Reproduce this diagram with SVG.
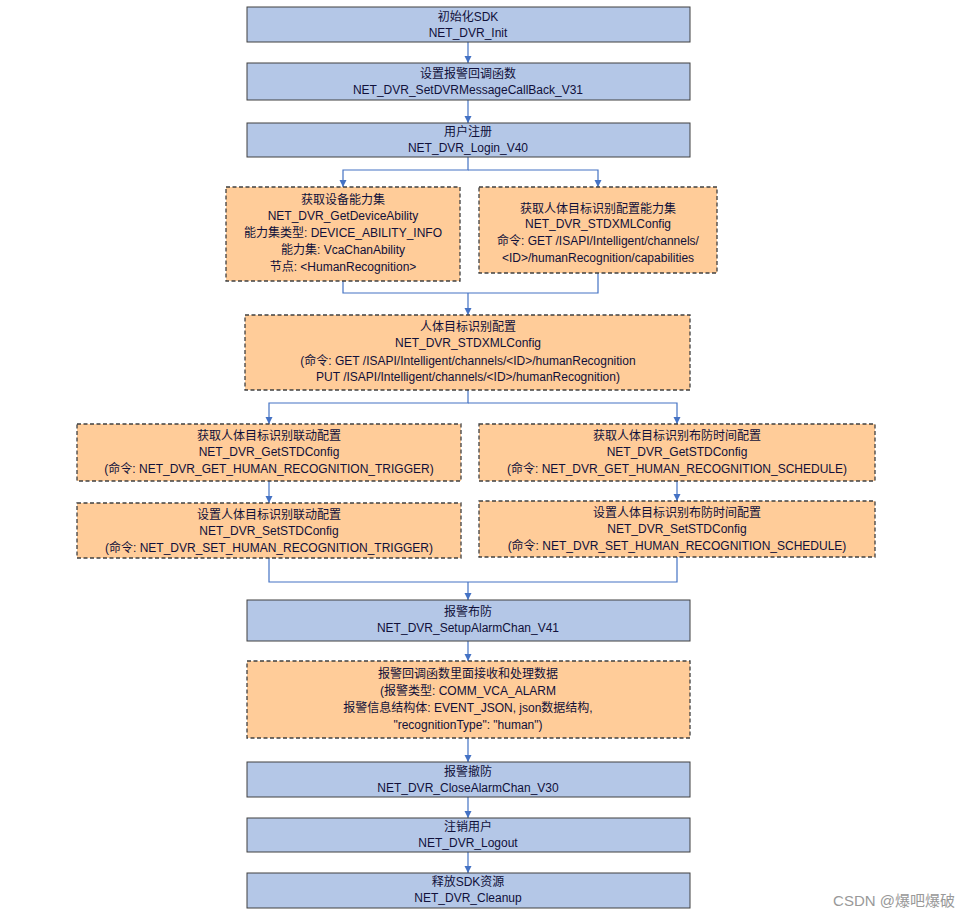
<svg xmlns="http://www.w3.org/2000/svg" width="972" height="921" viewBox="0 0 972 921">
<style>
.b{fill:#b4c7e7;stroke:#404040;stroke-width:1}
.o{fill:#ffcc99;stroke:#404040;stroke-width:1.3;stroke-dasharray:4,2.5}
text{font-family:"Liberation Sans","Noto Sans CJK SC",sans-serif;font-size:12px;fill:#10103a;text-anchor:middle}
.c path{fill:none;stroke:#4472c4;stroke-width:1.2}
</style>
<defs><marker id="a" markerWidth="8" markerHeight="8" refX="7" refY="4" orient="auto" markerUnits="userSpaceOnUse"><path d="M0,0.5L7,4L0,7.5z" fill="#4472c4"/></marker></defs>
<rect width="972" height="921" fill="#fff"/>
<g class="c">
<path d="M468,42V63" marker-end="url(#a)"/>
<path d="M468,100V123" marker-end="url(#a)"/>
<path d="M468,157V170H343V187" marker-end="url(#a)"/>
<path d="M468,170H598V187" marker-end="url(#a)"/>
<path d="M343,281V293H598V273"/>
<path d="M468,293V315" marker-end="url(#a)"/>
<path d="M468,390V403H269V424" marker-end="url(#a)"/>
<path d="M468,403H677V424" marker-end="url(#a)"/>
<path d="M269,481V503" marker-end="url(#a)"/>
<path d="M677,481V501" marker-end="url(#a)"/>
<path d="M269,558V582H677V557"/>
<path d="M468,582V600" marker-end="url(#a)"/>
<path d="M468,641V661" marker-end="url(#a)"/>
<path d="M468,738V762" marker-end="url(#a)"/>
<path d="M468,797V818" marker-end="url(#a)"/>
<path d="M468,852V873" marker-end="url(#a)"/>
</g>
<g id="n1"><rect class="b" x="247" y="7" width="443" height="35"/><text x="468" y="21">初始化SDK</text><text x="468" y="37">NET_DVR_Init</text></g>
<g id="n2"><rect class="b" x="247" y="63" width="443" height="37"/><text x="468" y="78">设置报警回调函数</text><text x="468" y="94">NET_DVR_SetDVRMessageCallBack_V31</text></g>
<g id="n3"><rect class="b" x="247" y="123" width="443" height="34"/><text x="468" y="136">用户注册</text><text x="468" y="152">NET_DVR_Login_V40</text></g>
<g id="n4"><rect class="o" x="226" y="187" width="234" height="94"/><text x="343" y="204">获取设备能力集</text><text x="343" y="220">NET_DVR_GetDeviceAbility</text><text x="343" y="237">能力集类型: DEVICE_ABILITY_INFO</text><text x="343" y="254">能力集: VcaChanAbility</text><text x="343" y="271">节点: &lt;HumanRecognition&gt;</text></g>
<g id="n5"><rect class="o" x="479" y="187" width="238" height="86"/><text x="598" y="213">获取人体目标识别配置能力集</text><text x="598" y="228">NET_DVR_STDXMLConfig</text><text x="598" y="245">命令: GET /ISAPI/Intelligent/channels/</text><text x="598" y="262">&lt;ID&gt;/humanRecognition/capabilities</text></g>
<g id="n6"><rect class="o" x="245" y="315" width="445" height="75"/><text x="468" y="331">人体目标识别配置</text><text x="468" y="347">NET_DVR_STDXMLConfig</text><text x="468" y="365">(命令: GET /ISAPI/Intelligent/channels/&lt;ID&gt;/humanRecognition</text><text x="468" y="381">PUT /ISAPI/Intelligent/channels/&lt;ID&gt;/humanRecognition)</text></g>
<g id="n7"><rect class="o" x="77" y="424" width="384" height="57"/><text x="269" y="440">获取人体目标识别联动配置</text><text x="269" y="456">NET_DVR_GetSTDConfig</text><text x="269" y="473">(命令: NET_DVR_GET_HUMAN_RECOGNITION_TRIGGER)</text></g>
<g id="n8"><rect class="o" x="479" y="424" width="396" height="57"/><text x="677" y="440">获取人体目标识别布防时间配置</text><text x="677" y="456">NET_DVR_GetSTDConfig</text><text x="677" y="473">(命令: NET_DVR_GET_HUMAN_RECOGNITION_SCHEDULE)</text></g>
<g id="n9"><rect class="o" x="77" y="503" width="384" height="55"/><text x="269" y="519">设置人体目标识别联动配置</text><text x="269" y="535">NET_DVR_SetSTDConfig</text><text x="269" y="552">(命令: NET_DVR_SET_HUMAN_RECOGNITION_TRIGGER)</text></g>
<g id="n10"><rect class="o" x="479" y="501" width="396" height="56"/><text x="677" y="517">设置人体目标识别布防时间配置</text><text x="677" y="533">NET_DVR_SetSTDConfig</text><text x="677" y="550">(命令: NET_DVR_SET_HUMAN_RECOGNITION_SCHEDULE)</text></g>
<g id="n11"><rect class="b" x="247" y="600" width="443" height="41"/><text x="468" y="616">报警布防</text><text x="468" y="632">NET_DVR_SetupAlarmChan_V41</text></g>
<g id="n12"><rect class="o" x="247" y="661" width="443" height="77"/><text x="468" y="678">报警回调函数里面接收和处理数据</text><text x="468" y="695">(报警类型: COMM_VCA_ALARM</text><text x="468" y="712">报警信息结构体: EVENT_JSON, json数据结构,</text><text x="468" y="729">"recognitionType": "human")</text></g>
<g id="n13"><rect class="b" x="247" y="762" width="443" height="35"/><text x="468" y="776">报警撤防</text><text x="468" y="792">NET_DVR_CloseAlarmChan_V30</text></g>
<g id="n14"><rect class="b" x="247" y="818" width="443" height="34"/><text x="468" y="831">注销用户</text><text x="468" y="847">NET_DVR_Logout</text></g>
<g id="n15"><rect class="b" x="247" y="873" width="443" height="35"/><text x="468" y="886">释放SDK资源</text><text x="468" y="902">NET_DVR_Cleanup</text></g>
<text x="955" y="906" style="font-size:15px;fill:#999;text-anchor:end">CSDN @爆吧爆破</text>
</svg>
